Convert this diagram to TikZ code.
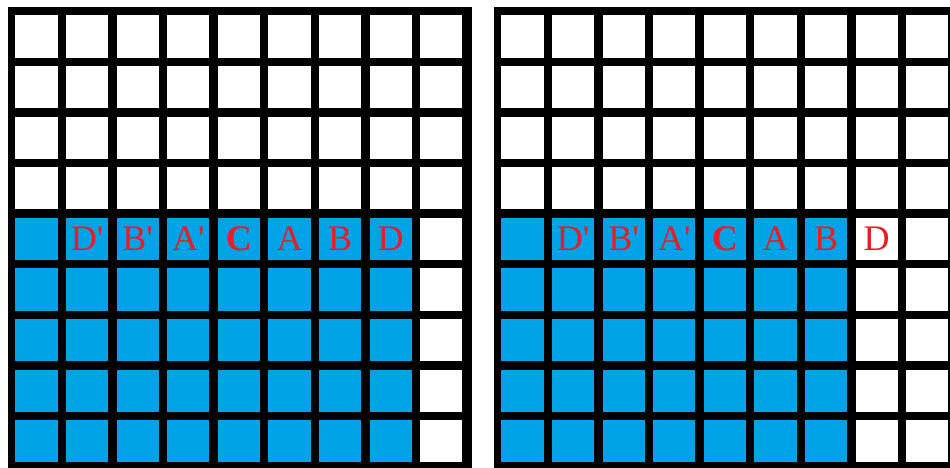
\documentclass[tikz,border=0pt]{standalone}
\usepackage{fontspec}
\usepackage{xcolor}
\usetikzlibrary{positioning}
\newfontfamily\labelfont{Liberation Serif}[Ligatures=TeXOff]
\definecolor{paintblue}{RGB}{0,162,232}
\definecolor{paintred}{RGB}{237,28,36}

\begin{document}
\begin{tikzpicture}[
  x=1pt, y=-1pt,
  frame/.style={fill=black, inner sep=0pt, minimum width=463.8pt, minimum height=463.8pt, anchor=north west},
  cell/.style={inner sep=0pt, minimum size=42.2pt},
  letter/.style={inner sep=0pt, text=paintred, font=\labelfont\fontsize{36}{40}\selectfont}
]
\useasboundingbox (0,0) rectangle (950,468);
\clip (0,0) rectangle (950,468);
% two grids, the right one has one blue column less
\foreach \g/\ox/\ncol in {l/0/8, r/486/7} {
  \node[frame] (\g-frame) at (\ox+8,7) {};
  \foreach \c in {1,...,9} {
    \foreach \r in {1,...,9} {
      \ifnum\r>4 \ifnum\c>\ncol \def\shade{white}\else\def\shade{paintblue}\fi
      \else \def\shade{white}\fi
      \node[cell, fill=\shade] (\g-\c-\r) at (\ox+36.5+50.6*\c-50.6, 36.5+50.6*\r-50.6) {};
    }
  }
}
% labels in the fifth row
\foreach \g in {l,r} {
  \foreach \lab [count=\c from 2] in {D',B',A',\textbf{C},A,B,D} {
    \node[letter] (\g-tag-\c) at (\g-\c-5) {\lab};
  }
}
\end{tikzpicture}
\end{document}
